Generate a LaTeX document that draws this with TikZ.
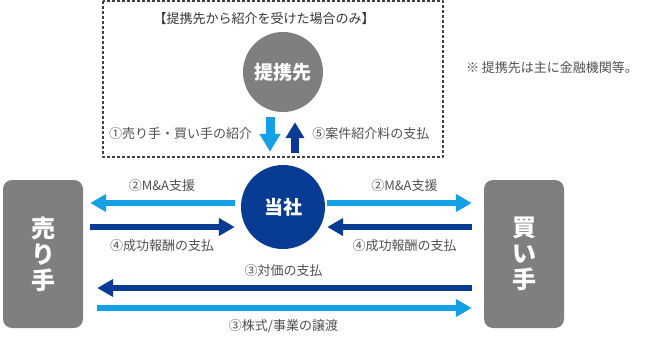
\documentclass[tikz,border=0pt]{standalone}
\usepackage{fontspec}
\setmainfont{Noto Sans CJK JP}
\usetikzlibrary{arrows.meta}
\definecolor{lblue}{RGB}{20,160,228}
\definecolor{dblue}{RGB}{8,60,148}
\definecolor{boxgray}{RGB}{127,127,127}
\definecolor{txtgray}{RGB}{80,80,80}

\begin{document}
\begin{tikzpicture}[x=1pt, y=-1pt, line join=round]
	\tikzset{lt/.style={draw=lblue, line width=6.5pt, -{Triangle[width=17pt,length=16pt]}},
		dk/.style={draw=dblue, line width=6.5pt, -{Triangle[width=17pt,length=16pt]}},
		party/.style={fill=boxgray, rounded corners=9pt, minimum width=80pt, minimum height=148pt,
			text=white, align=center, font=\bfseries\fontsize{24}{26}\selectfont},
		disc/.style={circle, text=white, font=\bfseries\fontsize{19}{21}\selectfont},
		lbl/.style={text=txtgray, font=\fontsize{13}{15}\selectfont}
	}
	\useasboundingbox (0,0) rectangle (648,341);
	% frame of the partner part
	\draw[gray!50!black, line width=1.2pt, dash pattern=on 3pt off 2pt] (103,1) rectangle (443,157);
	\node[lbl, text=black!80] (cond) at (264,19) {【提携先から紹介を受けた場合のみ】};
	\node[lbl] (note) at (552,68) {※ 提携先は主に金融機関等。};
	% parties
	\node[disc, fill=boxgray, minimum size=80pt] (partner) at (283,72) {提携先};
	\node[disc, fill=dblue, minimum size=84pt] (ours) at (283,207) {当社};
	\node[party] (seller) at (43,254) {売\\り\\手};
	\node[party] (buyer) at (524,254) {買\\い\\手};
	\coordinate (r1) at (0,203);
	\coordinate (r2) at (0,227);
	\coordinate (r3) at (0,288);
	\coordinate (r4) at (0,308);
	\coordinate (c1) at (270,0);
	\coordinate (c2) at (295,0);
	% partner <-> ours
	\draw[lt, line width=9pt, -{Triangle[width=20pt,length=18pt]}, shorten <=5pt, shorten >=13pt]
		(partner.south -| c1) -- node[lbl, pos=0.4, left=10pt] {①売り手・買い手の紹介} (ours.north -| c1);
	\draw[dk, line width=8pt, -{Triangle[width=18pt,length=16pt]}, shorten <=12pt, shorten >=10pt]
		(ours.north -| c2) -- node[lbl, pos=0.6, right=10pt] {⑤案件紹介料の支払} (partner.south -| c2);
	% ours <-> seller
	\draw[lt, shorten <=6pt, shorten >=7pt] (ours.west |- r1) -- node[lbl, above=5pt] {②M\&A支援} (seller.east |- r1);
	\draw[dk, shorten <=7pt, shorten >=6pt] (seller.east |- r2) -- node[lbl, below=6pt] {④成功報酬の支払} (ours.west |- r2);
	% ours <-> buyer
	\draw[lt, shorten <=2pt, shorten >=12pt] (ours.east |- r1) -- node[lbl, above=5pt] {②M\&A支援} (buyer.west |- r1);
	\draw[dk, shorten <=12pt, shorten >=2pt] (buyer.west |- r2) -- node[lbl, below=6pt] {④成功報酬の支払} (ours.east |- r2);
	% seller <-> buyer
	\draw[dk, shorten <=12pt, shorten >=14pt] (buyer.west |- r3) -- node[lbl, above=5pt] {③対価の支払} (seller.east |- r3);
	\draw[lt, shorten <=14pt, shorten >=12pt] (seller.east |- r4) -- node[lbl, below=5pt] {③株式/事業の譲渡} (buyer.west |- r4);
\end{tikzpicture}
\end{document}
